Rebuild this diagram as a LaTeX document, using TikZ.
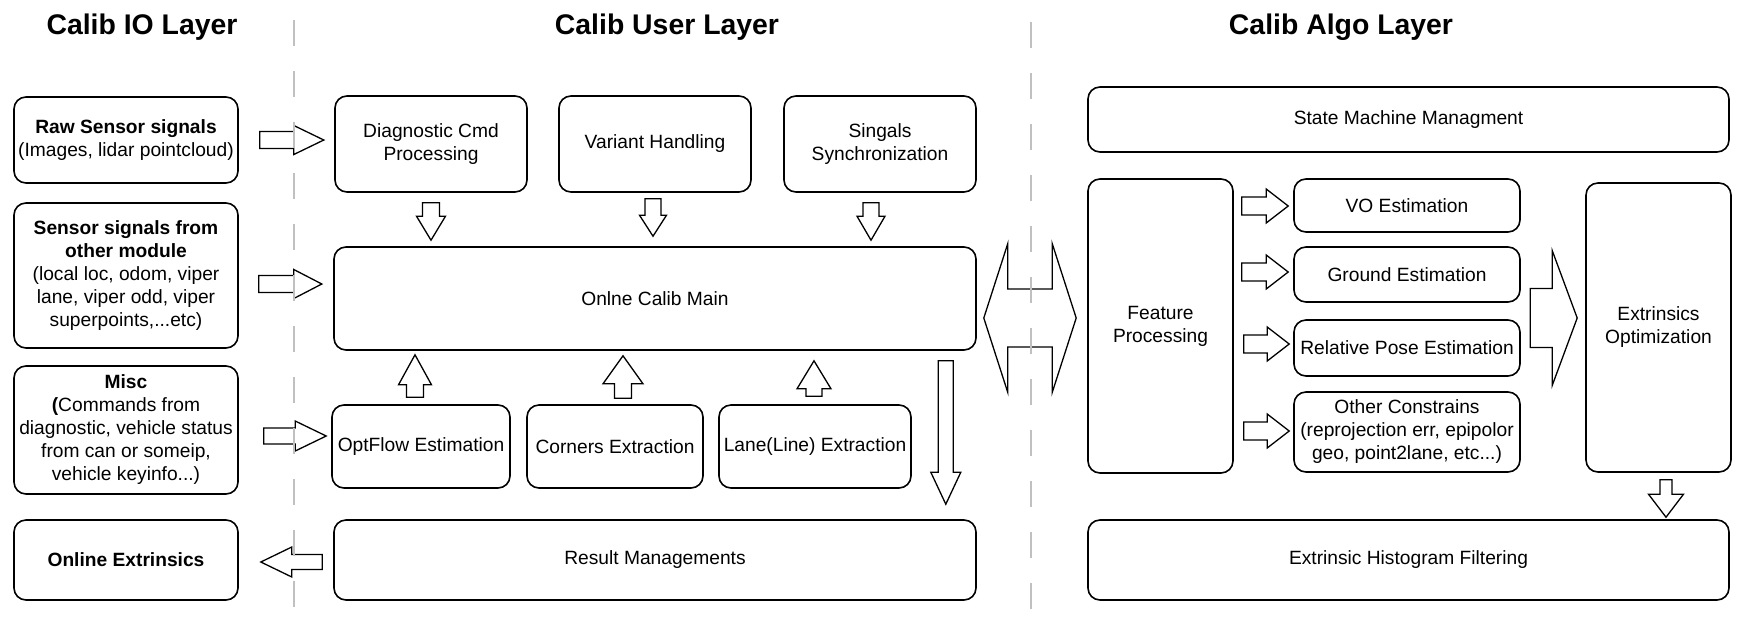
\documentclass[tikz,border=0pt]{standalone}
\usepackage{fontspec}
\setmainfont{Liberation Sans}
\usetikzlibrary{calc}
\newcommand{\bodyfont}{\fontsize{9.6pt}{11.5pt}\selectfont}
\newcommand{\titlefont}{\fontsize{14.2pt}{17pt}\selectfont\bfseries}
% block arrow: tail, tip, shaft half width, head half width, head length
\newcommand{\blockarrow}[5]{%
  \path (#1) coordinate (ba-t) (#2) coordinate (ba-h);
  \path ($(ba-h)!#5!(ba-t)$) coordinate (ba-b);
  \draw[barrow] ($(ba-t)!#3!90:(ba-h)$) -- ($(ba-b)!#3!90:(ba-h)$) -- ($(ba-b)!#4!90:(ba-h)$) -- (ba-h)
    -- ($(ba-b)!#4!-90:(ba-h)$) -- ($(ba-b)!#3!-90:(ba-h)$) -- ($(ba-t)!#3!-90:(ba-h)$) -- cycle;
}
% double block arrow: tip1, tip2, shaft half width, head half width, head length
\newcommand{\dblockarrow}[5]{%
  \path (#1) coordinate (da-a) (#2) coordinate (da-b);
  \path ($(da-a)!#5!(da-b)$) coordinate (da-ab) ($(da-b)!#5!(da-a)$) coordinate (da-bb);
  \draw[barrow] (da-a) -- ($(da-ab)!#4!90:(da-b)$) -- ($(da-ab)!#3!90:(da-b)$) -- ($(da-bb)!#3!-90:(da-a)$)
    -- ($(da-bb)!#4!-90:(da-a)$) -- (da-b) -- ($(da-bb)!#4!90:(da-a)$) -- ($(da-bb)!#3!90:(da-a)$)
    -- ($(da-ab)!#3!-90:(da-b)$) -- ($(da-ab)!#4!-90:(da-b)$) -- cycle;
}
\definecolor{sepgray}{RGB}{192,192,192}
\tikzset{
  box/.style={draw=black, line width=0.8pt, rounded corners=6pt, align=center, font=\bodyfont, inner sep=1pt},
  sz/.style 2 args={minimum width=#1*0.5pt, minimum height=#2*0.5pt},
  barrow/.style={draw=black, line width=0.65pt, line join=miter},
  sep/.style={draw=sepgray, line width=1.4pt, dash pattern=on 13pt off 12.5pt},
  title/.style={font=\titlefont, inner sep=0pt}
}
\begin{document}
\begin{tikzpicture}[x=0.5pt, y=-0.5pt]
\useasboundingbox (0,0) rectangle (1752,617);

% titles
\node[title] (t1) at (142,27) {Calib IO Layer};
\node[title] (t2) at (667,27) {Calib User Layer};
\node[title] (t3) at (1341,27) {Calib Algo Layer};

% IO layer
\node[box, sz={224}{86}] (raw) at (126,140) {\textbf{Raw Sensor signals}\\(Images, lidar pointcloud)};
\node[box, sz={224}{145}] (sensor) at (126,275.5) {\textbf{Sensor signals from}\\\textbf{other module}\\(local loc, odom, viper\\lane, viper odd, viper\\superpoints,...etc)};
\node[box, sz={224}{128}] (misc) at (126,430) {\textbf{Misc}\\\textbf{(}Commands from\\diagnostic, vehicle status\\from can or someip,\\vehicle keyinfo...)};
\node[box, sz={224}{80}] (oext) at (126,560) {\textbf{Online Extrinsics}};

% User layer
\node[box, sz={192}{96}] (diag) at (431,144) {Diagnostic Cmd\\Processing};
\node[box, sz={192}{96}] (variant) at (655,144) {Variant Handling};
\node[box, sz={192}{96}] (sync) at (880,144) {Singals\\Synchronization};
\node[box, sz={642}{103}] (main) at (655,298.5) {Onlne Calib Main};
\node[box, sz={178}{83}] (optflow) at (421,446.5) {OptFlow Estimation};
\node[box, sz={176}{83}] (corners) at (615,446.5) {Corners Extraction};
\node[box, sz={192}{83}] (lane) at (815,446.5) {Lane(Line) Extraction};
\node[box, sz={642}{80}] (result) at (655,560) {Result Managements};

% Algo layer
\node[box, sz={641}{65}] (sm) at (1408.5,119.5) {State Machine Managment};
\node[box, sz={145}{294}] (feat) at (1160.5,326) {Feature\\Processing};
\node[box, sz={226}{53}] (vo) at (1407,205.5) {VO Estimation};
\node[box, sz={226}{55}] (ground) at (1407,274.5) {Ground Estimation};
\node[box, sz={226}{56}] (relpose) at (1407,348) {Relative Pose Estimation};
\node[box, sz={226}{80}] (other) at (1407,432) {Other Constrains\\(reprojection err, epipolor\\geo, point2lane, etc...)};
\node[box, sz={145}{289}] (extopt) at (1658.5,327.5) {Extrinsics\\Optimization};
\node[box, sz={641}{80}] (hist) at (1408.5,560) {Extrinsic Histogram Filtering};

% IO <-> User arrows
\blockarrow{$(raw.east)+(21,0)$}{$(raw.east)+(85,0)$}{4.25pt}{7.25pt}{15pt}
\blockarrow{$(sensor.east)+(20,8.5)$}{$(sensor.east)+(83,8.5)$}{4.25pt}{7.25pt}{14pt}
\blockarrow{$(misc.east)+(25,6)$}{$(optflow.west)+(-5,-10.5)$}{4pt}{7.5pt}{15.5pt}
\blockarrow{$(result.west)+(-11,2)$}{$(oext.east)+(22,2)$}{3.75pt}{7.5pt}{15.5pt}

% top row down arrows
\blockarrow{$(diag.south)+(0,10)$}{$(main.north -| diag.south)+(0,-6)$}{4.25pt}{7.25pt}{12pt}
\blockarrow{$(variant.south)+(-2,6)$}{$(main.north -| variant.south)+(-2,-10)$}{4pt}{6.75pt}{10.5pt}
\blockarrow{$(sync.south)+(-9,10)$}{$(main.north -| sync.south)+(-9,-6)$}{4pt}{7pt}{12pt}

% bottom row up arrows
\blockarrow{$(optflow.north)+(-6,-7)$}{$(main.south -| optflow.north)+(-6,4)$}{4.25pt}{8.25pt}{15pt}
\blockarrow{$(corners.north)+(8,-6)$}{$(main.south -| corners.north)+(8,5)$}{4.25pt}{10pt}{14pt}
\blockarrow{$(lane.north)+(-1,-8)$}{$(main.south -| lane.north)+(-1,10)$}{4pt}{8.5pt}{14pt}

% main -> result
\blockarrow{$(main.south east)+(-31,10)$}{$(result.north -| main.south east)+(-31,-15)$}{3.75pt}{7.5pt}{16pt}

% User <-> Algo
\dblockarrow{$(main.east)+(7,19.5)$}{$(feat.west)+(-11,-8)$}{14.5pt}{37.25pt}{12pt}

% Feature -> estimations
\blockarrow{$(vo.west -| feat.east)+(8,0.5)$}{$(vo.west)+(-5,0.5)$}{4.5pt}{8.5pt}{11pt}
\blockarrow{$(ground.west -| feat.east)+(8,-2.5)$}{$(ground.west)+(-5,-2.5)$}{4.5pt}{8.5pt}{11pt}
\blockarrow{$(relpose.west -| feat.east)+(10,-4)$}{$(relpose.west)+(-4,-4)$}{4.5pt}{8.5pt}{11pt}
\blockarrow{$(other.west -| feat.east)+(10,-1)$}{$(other.west)+(-4,-1)$}{4.5pt}{8.5pt}{11pt}

% estimations -> extrinsics optimization
\blockarrow{$(extopt.west)+(-55,-9.5)$}{$(extopt.west)+(-8,-9.5)$}{14.75pt}{33.75pt}{12.5pt}

% extrinsics optimization -> histogram
\blockarrow{$(extopt.south)+(7.5,7)$}{$(hist.north -| extopt.south)+(7.5,-2)$}{3pt}{8.75pt}{11.5pt}

% layer separators
\coordinate (s1top) at (294,20);
\coordinate (s1bot) at (294,612);
\coordinate (s2top) at (1031,22);
\coordinate (s2bot) at (1031,612);
\draw[sep] (s1top) -- (s1bot);
\draw[sep] (s2top) -- (s2bot);
\end{tikzpicture}
\end{document}
